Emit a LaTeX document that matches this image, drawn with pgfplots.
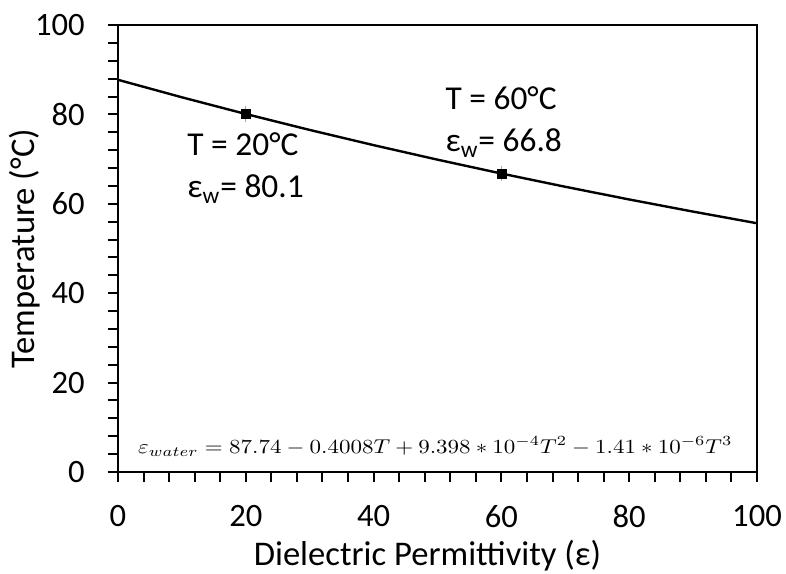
\documentclass[border=0pt]{standalone}
\usepackage{fontspec}
\setmainfont{Carlito}
\usepackage{pgfplots}
\pgfplotsset{compat=1.18}
\begin{document}
\begin{tikzpicture}
\begin{axis}[
  width=319.5pt, height=223.5pt, scale only axis,
  xmin=0, xmax=100, ymin=0, ymax=100,
  xtick={0,20,...,100}, ytick={0,20,...,100},
  minor tick num=4,
  tick align=outside, tick pos=left,
  major tick length=5pt, minor tick length=5pt,
  every tick/.style={black, line width=1pt},
  axis line style={black, line width=1.4pt},
  /pgf/number format/assume math mode=true,
  ticklabel style={font=\fontsize{16.3}{18}\selectfont, inner sep=0pt},
  xticklabel style={anchor=north, yshift=-11.5pt},
  yticklabel style={anchor=east, xshift=-11.5pt},
  xlabel={Dielectric Permittivity (ε)},
  ylabel={Temperature (°C)},
  label style={font=\fontsize{17.3}{20}\selectfont, inner sep=0pt},
  xlabel style={at={(axis description cs:0.4843,-0.2081)}, anchor=base},
  ylabel style={at={(axis description cs:-0.1299,0.5)}, anchor=base},
  clip=false,
]
\addplot[black, line width=1.2pt] coordinates {
(0,87.74) (10,83.8246) (20,80.0886) (30,76.5238) (40,73.1214) (50,69.8733)
(60,66.7707) (70,63.8054) (80,60.9688) (90,58.2525) (100,55.648)
};
\addplot[black, only marks, mark=square*, mark size=2.25pt,
  error bars/.cd, y dir=both, y explicit, error bar style={line width=0.4pt, gray!70}, error mark=none]
  coordinates {(20,80.1) +- (0,1.7) (60,66.8) +- (0,1.7)};
\node[anchor=base west, font=\fontsize{16.7}{18}\selectfont, inner sep=0pt] at (axis cs:10.8,70.9) {T = 20°C};
\node[anchor=base west, font=\fontsize{16.7}{18}\selectfont, inner sep=0pt] at (axis cs:10.8,61.3) {ε\textsubscript{w}= 80.1};
\node[anchor=base west, font=\fontsize{16.7}{18}\selectfont, inner sep=0pt] at (axis cs:51.2,81.0) {T = 60°C};
\node[anchor=base west, font=\fontsize{16.7}{18}\selectfont, inner sep=0pt] at (axis cs:51.2,71.6) {ε\textsubscript{w}= 66.8};
\node[anchor=base west, inner sep=0pt, font=\fontsize{10}{12}\selectfont] at (axis cs:3.1,4.25) {\scalebox{1.15}[1]{$\varepsilon_{water} = 87.74 - 0.4008T + 9.398*10^{-4}T^2 - 1.41*10^{-6}T^3$}};
\coordinate (bl) at (rel axis cs:0,0);
\coordinate (tr) at (rel axis cs:1,1);
\end{axis}
\pgfresetboundingbox
\path[use as bounding box] ([shift={(-59pt,-50.5pt)}]bl) rectangle ([shift={(14.5pt,12.5pt)}]tr);
\end{tikzpicture}
\end{document}
